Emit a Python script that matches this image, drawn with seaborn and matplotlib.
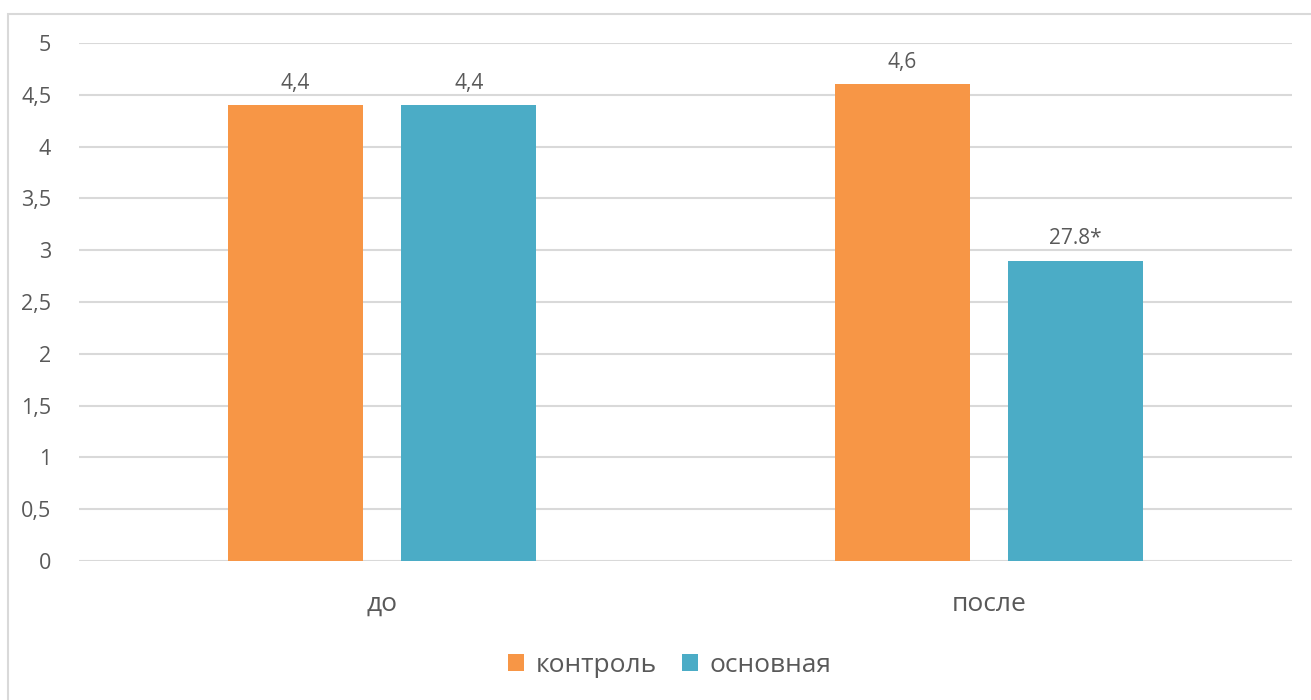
import matplotlib
matplotlib.use("Agg")
import matplotlib.pyplot as plt
import seaborn as sns
import pandas as pd
from matplotlib.patches import Rectangle

# Data
periods = ["до", "после"]
groups = ["контроль", "основная"]
control_values = [4.4, 4.6]
main_values = [4.4, 2.9]
control_labels = ["4,4", "4,6"]
main_labels = ["4,4", "27.8*"]
y_ticks = [0, 0.5, 1, 1.5, 2, 2.5, 3, 3.5, 4, 4.5, 5]
y_tick_labels = ["0", "0,5", "1", "1,5", "2", "2,5", "3", "3,5", "4", "4,5", "5"]

colors = {"контроль": "#F79646", "основная": "#4BACC6"}
text_color = "#595959"
grid_color = "#D9D9D9"

df = pd.DataFrame({
    "period": periods * 2,
    "group": [groups[0]] * len(periods) + [groups[1]] * len(periods),
    "value": control_values + main_values,
})

sns.set_theme(style="white")
plt.rcParams["font.family"] = ["Open Sans", "DejaVu Sans"]

fig = plt.figure(figsize=(13.11, 7.0), dpi=100)
ax = fig.add_axes([79 / 1311, 1 - 561 / 700, (1292 - 79) / 1311, (561 - 43) / 700])

sns.barplot(data=df, x="period", y="value", hue="group", order=periods,
            hue_order=groups, palette=colors, width=0.571, gap=0.22,
            saturation=1, linewidth=0, ax=ax, legend=True, zorder=3)

ax.set_ylim(0, 5)
ax.set_xlim(-0.5, 1.5)
ax.set_yticks(y_ticks)
ax.set_yticklabels(y_tick_labels)
ax.yaxis.grid(True, color=grid_color, linewidth=1.5, zorder=0)
ax.set_axisbelow(True)
for s in ax.spines.values():
    s.set_visible(False)
ax.tick_params(axis="y", length=0, pad=20, labelsize=15.5, labelcolor=text_color)
ax.tick_params(axis="x", length=0, pad=22, labelsize=19, labelcolor=text_color)
ax.set_xlabel("")
ax.set_ylabel("")

# Value labels above bars
for container, labels in zip(ax.containers, [control_labels, main_labels]):
    ax.bar_label(container, labels=labels, padding=8, fontsize=15, color=text_color)

# Legend below the plot
handles, _ = ax.get_legend_handles_labels()
ax.legend(handles, groups, loc="center", bbox_to_anchor=(0.487, (665 - 561) / -518.0),
          ncol=2, frameon=False, fontsize=19, labelcolor=text_color,
          handlelength=0.6, handleheight=0.6, handletextpad=0.45, columnspacing=0.95)

# Outer chart border
fig.patches.append(Rectangle((8 / 1311, -0.02), 1.05, 1 - 14 / 700 + 0.02,
                             transform=fig.transFigure, fill=False,
                             edgecolor=grid_color, linewidth=1.5, zorder=0))

fig.savefig("out.png", dpi=100, facecolor="white")
